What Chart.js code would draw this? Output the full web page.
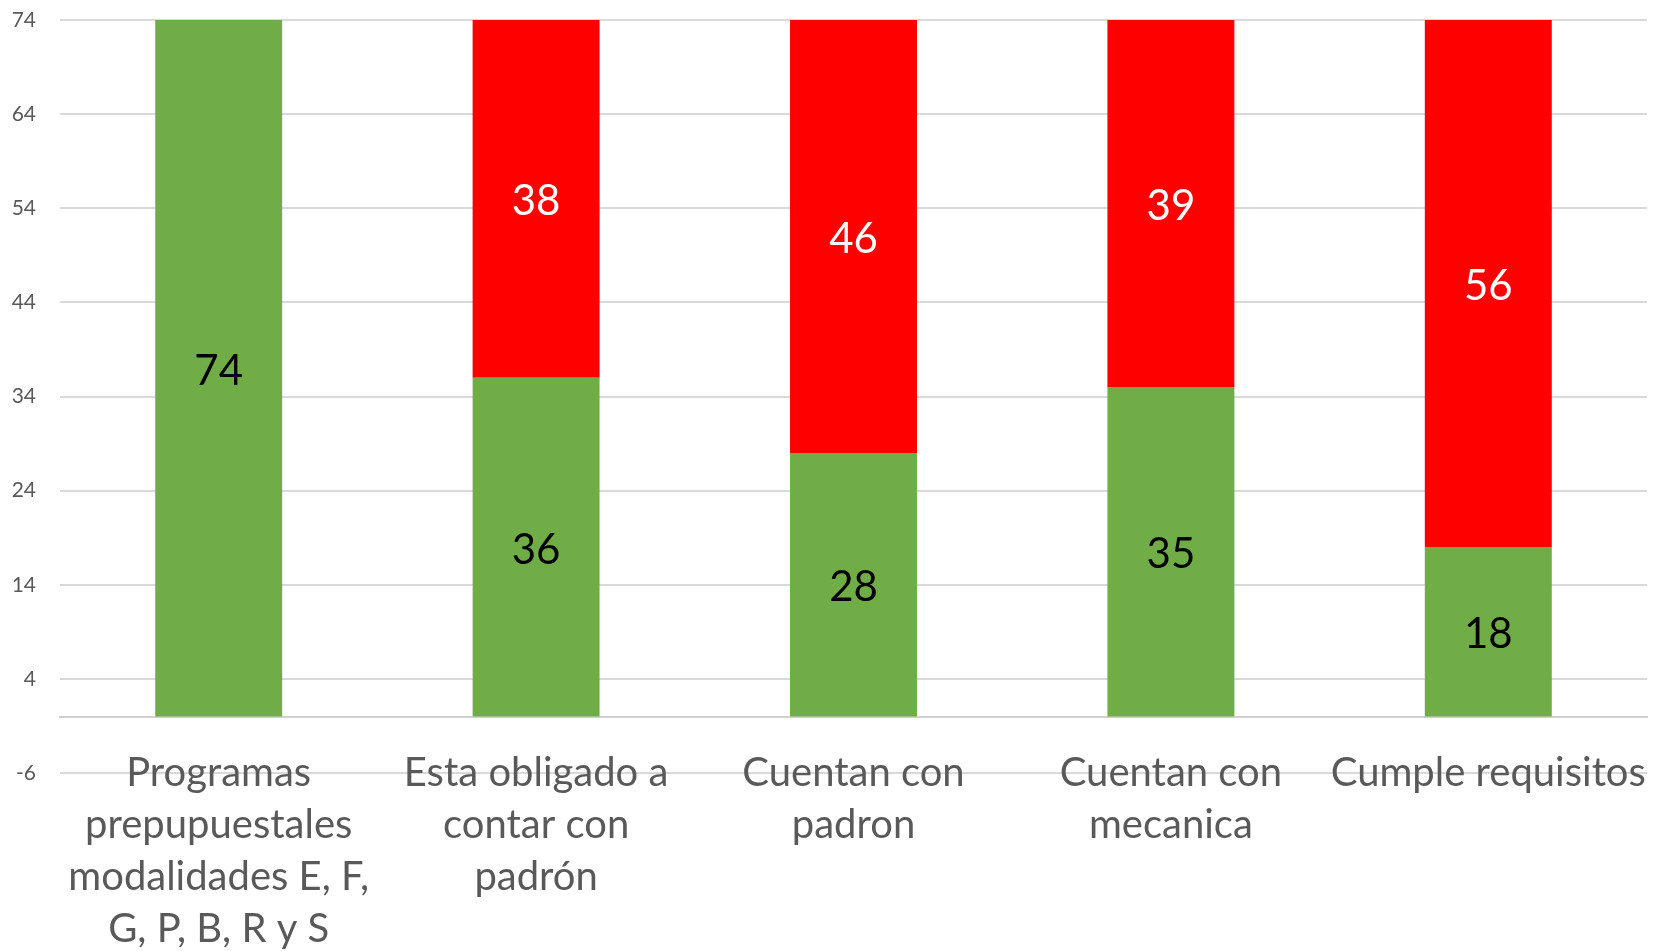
<!DOCTYPE html>
<html>
<head>
<meta charset="utf-8">
<script src="https://cdn.jsdelivr.net/npm/chart.js@4.4.0/dist/chart.umd.min.js"></script>
<style>
  html, body { margin: 0; padding: 0; background: #fff; }
  #myChart { display: block; }
</style>
</head>
<body>
<canvas id="myChart" width="1657" height="951"></canvas>
<script>
// categories, each one already split into the lines shown under the bars
var categorias = [
  ['Programas', 'prepupuestales', 'modalidades E, F,', 'G, P, B, R y S'],
  ['Esta obligado a', 'contar con', 'padrón'],
  ['Cuentan con', 'padron'],
  ['Cuentan con', 'mecanica'],
  ['Cumple requisitos']
];
var cumple = [74, 36, 28, 35, 18];      // green part
var noCumple = [null, 38, 46, 39, 56];  // red part
var yTicks = [-6, 4, 14, 24, 34, 44, 54, 64, 74];

var fuente = 'Lato, "Open Sans", sans-serif';

// draw the value in the middle of every bar piece (no datalabels plugin here)
var etiquetas = {
  id: 'etiquetas',
  afterDatasetsDraw: function(chart) {
    var ctx = chart.ctx;
    ctx.save();
    ctx.font = '42px ' + fuente;
    ctx.textAlign = 'center';
    ctx.textBaseline = 'middle';
    chart.data.datasets.forEach(function(ds, i) {
      var meta = chart.getDatasetMeta(i);
      meta.data.forEach(function(bar, j) {
        var v = ds.data[j];
        if (v === null || v === 0) return;
        ctx.fillStyle = ds.labelColor;
        // +3: Lato sits a bit higher than the original font
        ctx.fillText(String(v), bar.x, (bar.y + bar.base) / 2 + 3);
      });
    });
    ctx.restore();
  }
};

// the scales should not push the plot area around, padding below decides it
function sinMargen(s) {
  s.paddingTop = 0;
  s.paddingBottom = 0;
  s.paddingLeft = 0;
  s.paddingRight = 0;
}

var ctx = document.getElementById('myChart').getContext('2d');
var myChart = new Chart(ctx, {
  type: 'bar',
  data: {
    labels: categorias,
    datasets: [
      {
        label: 'Cumple',
        data: cumple,
        backgroundColor: '#70AD47',
        borderWidth: 0,
        labelColor: '#000000'
      },
      {
        label: 'No cumple',
        data: noCumple,
        backgroundColor: '#FF0000',
        borderWidth: 0,
        labelColor: '#FFFFFF'
      }
    ]
  },
  options: {
    responsive: false,
    animation: false,
    layout: {
      padding: { left: 0, right: 10, top: 20, bottom: 178 }
    },
    plugins: {
      legend: { display: false },
      title: { display: false },
      tooltip: { enabled: false }
    },
    datasets: {
      bar: { categoryPercentage: 1.0, barPercentage: 0.4 }
    },
    scales: {
      x: {
        stacked: true,
        position: { y: 0 },
        grid: { display: false, drawTicks: false },
        border: { display: true, color: '#d0d0d0', width: 2 },
        ticks: {
          autoSkip: false,
          maxRotation: 0,
          minRotation: 0,
          padding: 31,
          color: '#595959',
          font: { family: fuente, size: 40, lineHeight: 1.3 }
        },
        afterFit: sinMargen
      },
      y: {
        stacked: true,
        min: -6,
        max: 74,
        grid: { color: '#d9d9d9', lineWidth: 2, drawTicks: false },
        border: { display: false },
        ticks: {
          padding: 24,
          color: '#595959',
          font: { family: fuente, size: 21 }
        },
        afterBuildTicks: function(s) {
          s.ticks = yTicks.map(function(v) { return { value: v }; });
        },
        afterFit: function(s) {
          s.width = 60;
          sinMargen(s);
        }
      }
    }
  },
  plugins: [etiquetas]
});
</script>
</body>
</html>
